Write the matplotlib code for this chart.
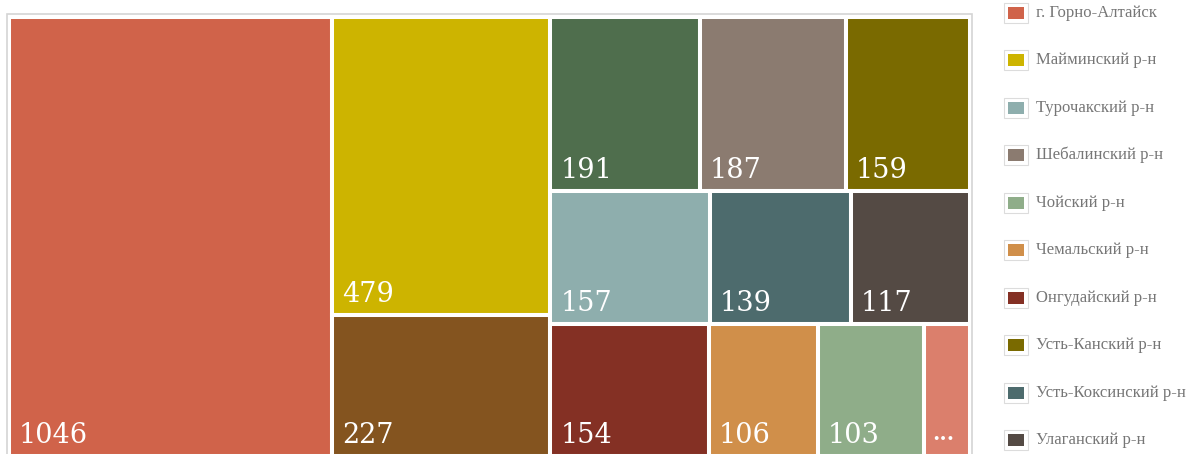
import matplotlib.pyplot as plt
from matplotlib.patches import Rectangle

# Tile data (treemap order)
names = [
    'г. Горно-Алтайск', 'Майминский р-н', 'Кош-Агачский р-н', 'Прочие',
    'Шебалинский р-н', 'Усть-Канский р-н', 'Турочакский р-н',
    'Усть-Коксинский р-н', 'Улаганский р-н', 'Онгудайский р-н',
    'Чемальский р-н', 'Чойский р-н', '...'
]
values = [1046, 479, 227, 191, 187, 159, 157, 139, 117, 154, 106, 103, 45]
labels = ['1046', '479', '227', '191', '187', '159', '157', '139', '117',
          '154', '106', '103', '...']
colors = ['#d0634a', '#cdb400', '#84541f', '#4f6e4d', '#8b7b70', '#7a6a00',
          '#8eaead', '#4d6b6d', '#544a44', '#843024', '#d08f4a', '#8fad89',
          '#db7f6c']

# treemap grouping: columns -> rows -> tile indices
columns = [[[0]], [[1], [2]], [[3, 4, 5], [6, 7, 8], [9, 10, 11, 12]]]
# legend shows these entries (the rest is cut off)
legend_order = [0, 1, 6, 4, 11, 10, 9, 5, 7, 8]

FW, FH = 1198, 454
AX_L, AX_T, AW, AH = 9, 17, 961, 439

fig = plt.figure(figsize=(FW / 100, FH / 100), dpi=100)

# outer light frame
fig.patches.append(Rectangle((7 / FW, -0.1), (972 - 7) / FW, (FH - 14) / FH + 0.1,
                             transform=fig.transFigure, fc='white',
                             ec='#d4d4d4', lw=1.2, zorder=-1))

ax = fig.add_axes([AX_L / FW, (FH - AX_T - AH) / FH, AW / FW, AH / FH], zorder=2)
ax.set_xlim(0, AW)
ax.set_ylim(AH, 0)
ax.set_axis_off()

total = sum(values)
x = 0
for col in columns:
    col_sum = sum(values[i] for row in col for i in row)
    cw = col_sum / total * AW
    y = 0
    for row in col:
        rs = sum(values[i] for i in row)
        rh = rs / col_sum * AH
        xx = x
        for i in row:
            w = values[i] / rs * cw
            ax.add_patch(Rectangle((xx, y), w, rh, fc=colors[i], ec='white', lw=2.9))
            if labels[i] == '...':
                ax.text(xx + 9, y + rh - 16, labels[i], color='white',
                        fontsize=15, fontweight='bold', family='DejaVu Serif',
                        va='baseline', ha='left')
            else:
                ax.text(xx + 10, y + rh - 13, labels[i], color='white',
                        fontsize=19.5, family='DejaVu Serif',
                        va='baseline', ha='left')
            xx += w
        y += rh
    x += cw

# legend
lax = fig.add_axes([0, 0, 1, 1], zorder=1)
lax.set_xlim(0, FW)
lax.set_ylim(FH, 0)
lax.set_axis_off()
for k, i in enumerate(legend_order):
    cy = 12.7 + 47.5 * k
    lax.add_patch(Rectangle((1004, cy - 10), 24, 20, fc='white', ec='#dcdcdc', lw=0.8))
    lax.add_patch(Rectangle((1008, cy - 6), 16, 12, fc=colors[i], ec='none'))
    lax.text(1036, cy, names[i], color='#767676', fontsize=12,
             family='Liberation Serif', va='center', ha='left')

fig.savefig('out.png', dpi=100)
